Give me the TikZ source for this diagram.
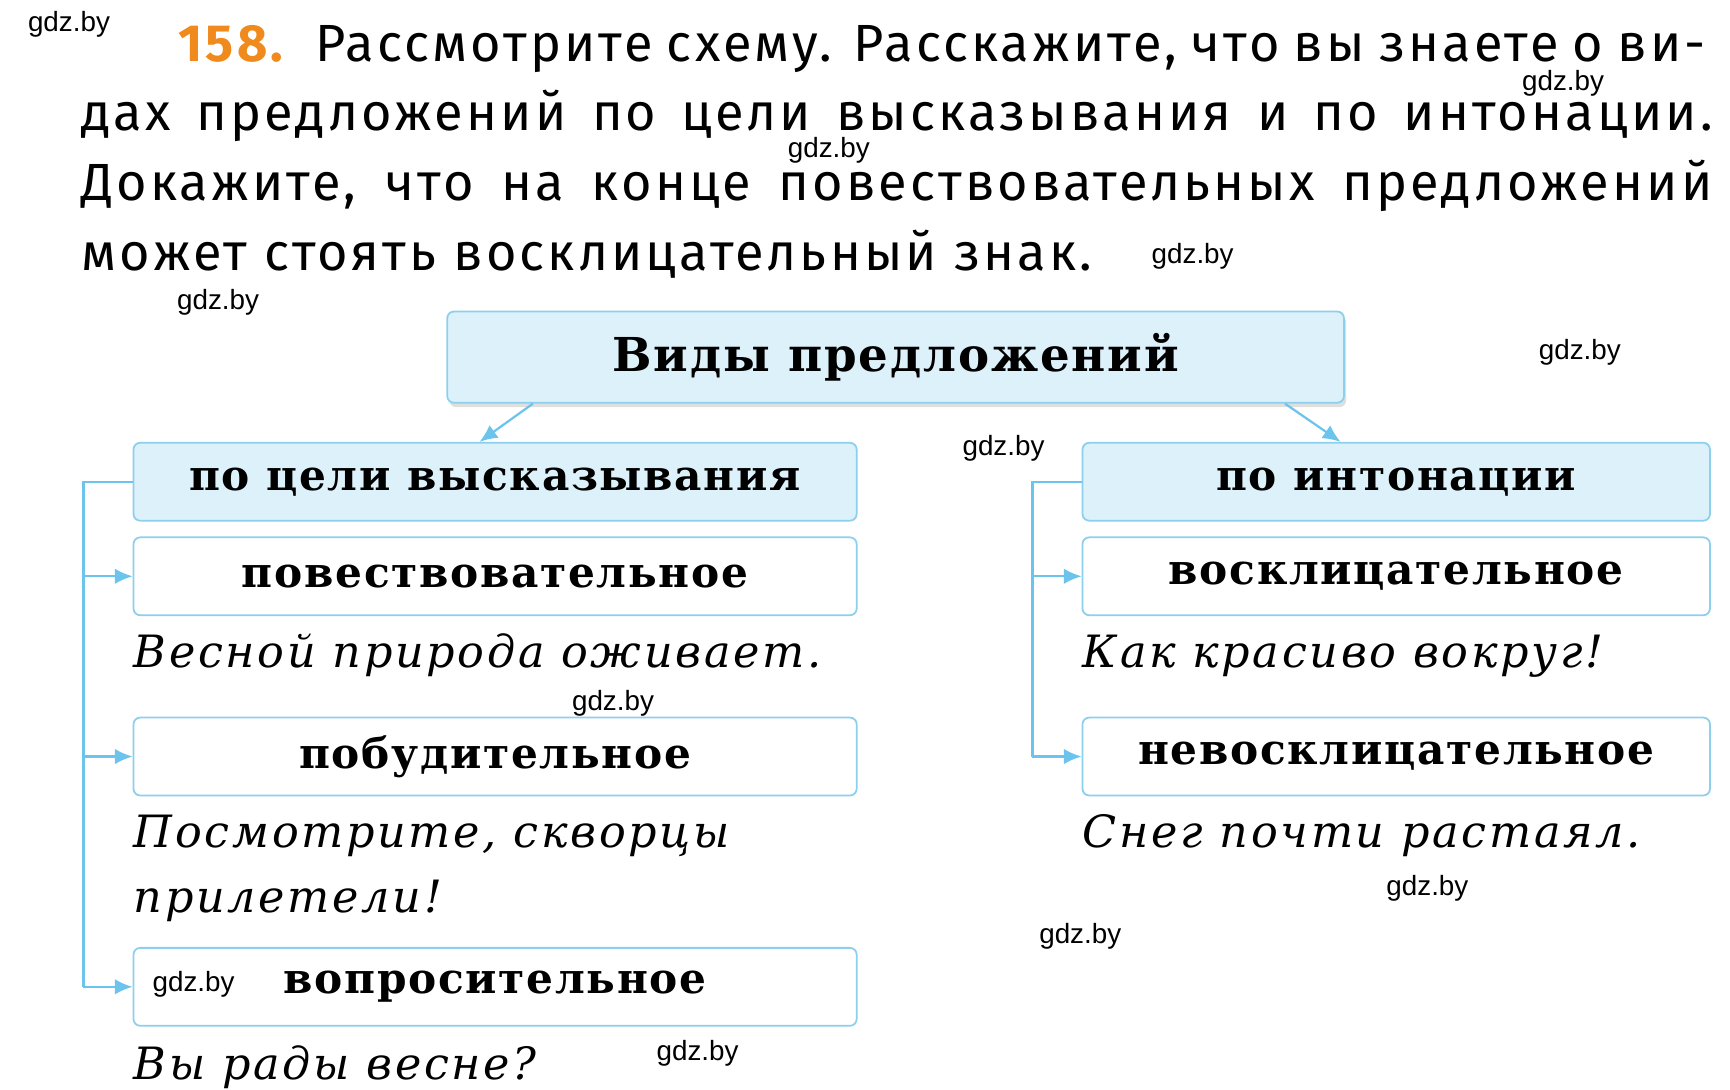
\documentclass[tikz,border=0pt]{standalone}
\usepackage{fontspec}
\setmainfont{DejaVu Serif}
\newfontfamily\boxfont[LetterSpace=4]{DejaVu Serif}
\newfontfamily\samplefont[LetterSpace=6]{DejaVu Serif}
\newfontfamily\headfont[LetterSpace=6]{Fira Sans}
\newfontfamily\markfont{Liberation Sans}
\usetikzlibrary{positioning,shadows,arrows.meta}
\definecolor{boxline}{HTML}{8DD0EE}
\definecolor{boxfill}{HTML}{DDF1FB}
\definecolor{arrowblue}{HTML}{6CC3EC}
\definecolor{numorange}{HTML}{F08A1C}
\tikzset{
  headbox/.style={draw=boxline, fill=boxfill, rounded corners=3pt, line width=0.8pt},
  kindbox/.style={draw=boxline, fill=white, rounded corners=3pt, line width=0.8pt},
  boxtext/.style={font=\boxfont\fontsize{19}{23}\selectfont\bfseries},
  sample/.style={anchor=base west, inner sep=0pt, font=\samplefont\fontsize{20}{24}\selectfont\itshape},
  task/.style={anchor=base west, inner sep=0pt, font=\headfont\fontsize{23.5}{27}\selectfont},
  wmark/.style={inner sep=0pt, font=\markfont\fontsize{12.5}{14}\selectfont},
  link/.style={arrowblue, line width=1pt},
  tip/.style={arrowblue, line width=1pt, -{Latex[length=8pt,width=7pt]}}
}
\begin{document}
\begin{tikzpicture}[x=0.5pt,y=-0.5pt]
        \useasboundingbox (0,0) rectangle (1555,979);
        % Task text
        \node (t0) at (160,55) [task, font=\headfont\fontsize{23.5}{27}\selectfont\bfseries, text=numorange] {158.};
        \node (t1) at (283,55) [task] {\makebox[625pt][s]{Рассмотрите схему. Расскажите, что вы знаете о ви-}};
        \node (t2) at (73,117) [task] {\makebox[733pt][s]{дах предложений по цели высказывания и по интонации.}};
        \node (t3) at (73,180) [task] {\makebox[733pt][s]{Докажите, что на конце повествовательных предложений}};
        \node (t4) at (73,243) [task] {может стоять восклицательный знак.};
        % Main box
        \node (main) at (805,321) [headbox, drop shadow={opacity=0.25,shadow xshift=1pt,shadow yshift=-2pt}, minimum width=403pt, minimum height=41pt, font=\boxfont\fontsize{21}{25}\selectfont\bfseries] {Виды предложений};
        % Headers
        \node (aim) at (445,433) [headbox, minimum width=325pt, minimum height=35pt, boxtext] {по цели высказывания};
        \node (tone) at (1255,433) [headbox, minimum width=282pt, minimum height=35pt, boxtext] {по интонации};
        % Kinds
        \node (k1) at (445,518) [kindbox, minimum width=325pt, minimum height=35pt, boxtext] {повествовательное};
        \node (k2) at (445,680) [kindbox, minimum width=325pt, minimum height=35pt, boxtext] {побудительное};
        \node (k3) at (445,887) [kindbox, minimum width=325pt, minimum height=35pt, boxtext] {вопросительное};
        \node (k4) at (1255,518) [kindbox, minimum width=282pt, minimum height=35pt, boxtext] {восклицательное};
        \node (k5) at (1255,680) [kindbox, minimum width=282pt, minimum height=35pt, boxtext] {невосклицательное};
        % Samples
        \node (s1) at (120,600) [sample] {Весной природа оживает.};
        \node (s2) at (120,762) [sample] {Посмотрите, скворцы};
        \node (s3) at (120,820) [sample] {прилетели!};
        \node (s4) at (120,970) [sample] {Вы рады весне?};
        \node (s5) at (973,600) [sample] {Как красиво вокруг!};
        \node (s6) at (973,762) [sample] {Снег почти растаял.};
        % Arrows from main box
        \draw[tip] ([xshift=-163pt]main.south) -- ([xshift=-7pt]aim.north);
        \draw[tip] ([xshift=175pt]main.south) -- ([xshift=-25pt]tone.north);
        % Left bracket
        \coordinate (lb) at (75,433);
        \draw[link] (aim.west) -- (lb) -- (75,887);
        \foreach \k in {k1,k2,k3} {
            \draw[tip] (75,0 |- \k.west) -- (\k.west);
        }
        % Right bracket
        \coordinate (rb) at (928,433);
        \draw[link] (tone.west) -- (rb) -- (928,680);
        \foreach \k in {k4,k5} {
            \draw[tip] (928,0 |- \k.west) -- (\k.west);
        }
        % Watermarks
        \node (w1) at (62,22) [wmark] {gdz.by};
        \node (w2) at (1405,75) [wmark] {gdz.by};
        \node (w3) at (745,135) [wmark] {gdz.by};
        \node (w4) at (1072,230) [wmark] {gdz.by};
        \node (w5) at (196,272) [wmark] {gdz.by};
        \node (w6) at (1420,317) [wmark] {gdz.by};
        \node (w7) at (902,403) [wmark] {gdz.by};
        \node (w8) at (551,632) [wmark] {gdz.by};
        \node (w9) at (1283,798) [wmark] {gdz.by};
        \node (w10) at (971,842) [wmark] {gdz.by};
        \node (w11) at (174,885) [wmark] {gdz.by};
        \node (w12) at (627,947) [wmark] {gdz.by};
    \end{tikzpicture}
\end{document}
